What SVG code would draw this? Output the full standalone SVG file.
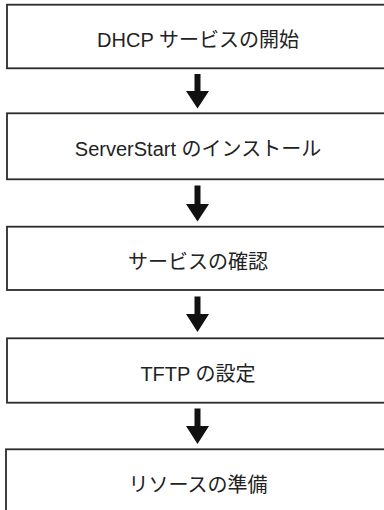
<svg xmlns="http://www.w3.org/2000/svg" width="384" height="510" viewBox="0 0 384 510">
<style>
.box{fill:#ffffff;stroke:#2b2b2b;stroke-width:1.8}
.lbl{font-family:"Liberation Sans","Noto Sans CJK JP",sans-serif;font-size:20px;fill:#222222;text-anchor:middle}
.arr{fill:#111111}
</style>
<rect x="0" y="0" width="384" height="510" fill="#ffffff"/>
<g id="connectors">
<polygon class="arr" points="194.5,74 200.5,74 200.5,91 209,91 197.5,108.5 186,91 194.5,91"/>
<polygon class="arr" points="194.5,185.5 200.5,185.5 200.5,204 209,204 197.5,221.5 186,204 194.5,204"/>
<polygon class="arr" points="194.5,296.5 200.5,296.5 200.5,314 209,314 197.5,332 186,314 194.5,314"/>
<polygon class="arr" points="194.5,408.5 200.5,408.5 200.5,426 209,426 197.5,444 186,426 194.5,426"/>
</g>
<g id="node1"><rect class="box" x="7" y="4.7" width="400" height="63.6"/><text class="lbl" x="198" y="46.5">DHCP サービスの開始</text></g>
<g id="node2"><rect class="box" x="7" y="113.3" width="400" height="66"/><text class="lbl" x="198" y="155.5">ServerStart のインストール</text></g>
<g id="node3"><rect class="box" x="7" y="226.7" width="400" height="63.3"/><text class="lbl" x="198" y="268.5">サービスの確認</text></g>
<g id="node4"><rect class="box" x="7" y="338.3" width="400" height="64.4"/><text class="lbl" x="198" y="380.5">TFTP の設定</text></g>
<g id="node5"><rect class="box" x="6" y="449.3" width="400" height="70"/><text class="lbl" x="198" y="491.5">リソースの準備</text></g>
</svg>
